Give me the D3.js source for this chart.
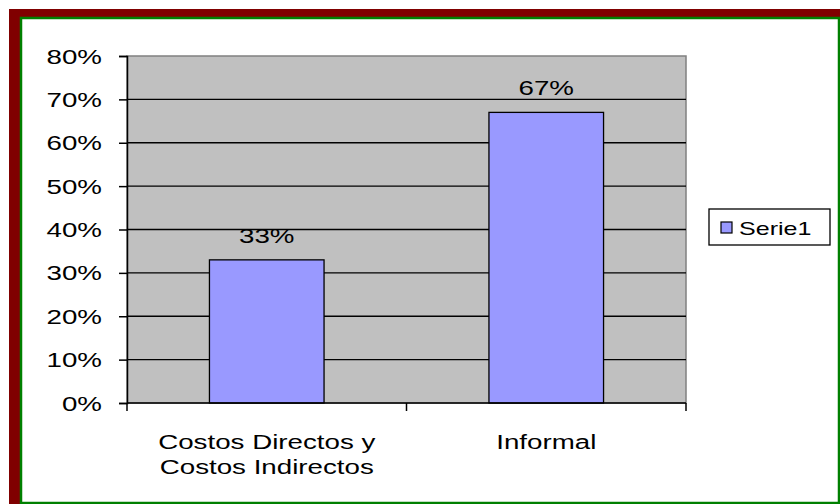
<!DOCTYPE html>
<html>
<head>
<meta charset="utf-8">
<script src="https://cdn.jsdelivr.net/npm/d3@7"></script>
<style>
  body { margin: 0; background: #fff; }
  text { font-family: "Liberation Sans", Arial, sans-serif; fill: #000; }
</style>
</head>
<body>
<svg id="chart" width="840" height="504"></svg>
<script>
var categories = [["Costos Directos y", "Costos Indirectos"], ["Informal"]];
var values = [0.33, 0.67];
var valueLabels = ["33%", "67%"];
var yTicks = [0, 0.1, 0.2, 0.3, 0.4, 0.5, 0.6, 0.7, 0.8];
var seriesName = "Serie1";

var svg = d3.select("#chart"),
    WIDTH = 840,
    HEIGHT = 504,
    FS = 21,     // font size
    SX = 1.32;   // text is stretched sideways in the original

// frame: maroon band, green line, white inside
svg.append("rect").attr("x", 9).attr("y", 9).attr("width", 900).attr("height", 600)
    .attr("fill", "#800000");
svg.append("rect").attr("x", 21).attr("y", 18).attr("width", 818).attr("height", 485)
    .attr("fill", "#fff").attr("stroke", "#008000").attr("stroke-width", 2.5);

var plot = { left: 127, right: 686, top: 56, bottom: 403 };

var x = d3.scaleBand().domain(d3.range(values.length))
    .range([plot.left, plot.right]).paddingInner(0.59).paddingOuter(0.295);
var y = d3.scaleLinear().domain([0, 0.8]).range([plot.bottom, plot.top]);

function stext(g, tx, ty, str, anchor) {
  return g.append("text")
    .attr("transform", "translate(" + tx + "," + ty + ") scale(" + SX + ",1)")
    .attr("text-anchor", anchor || "middle")
    .attr("font-size", FS)
    .text(str);
}

// plot background
svg.append("rect").attr("x", plot.left).attr("y", plot.top)
    .attr("width", plot.right - plot.left).attr("height", plot.bottom - plot.top)
    .attr("fill", "#c0c0c0").attr("stroke", "#808080").attr("stroke-width", 1.5);

// gridlines
svg.append("g").selectAll("line").data(yTicks.filter(function (d) { return d > 0 && d < 0.8; }))
  .enter().append("line")
    .attr("x1", plot.left).attr("x2", plot.right)
    .attr("y1", function (d) { return y(d); }).attr("y2", function (d) { return y(d); })
    .attr("stroke", "#000").attr("stroke-width", 1.3);

// bars
svg.append("g").selectAll("rect").data(values).enter().append("rect")
    .attr("x", function (d, i) { return x(i); })
    .attr("y", function (d) { return y(d); })
    .attr("width", x.bandwidth())
    .attr("height", function (d) { return y(0) - y(d); })
    .attr("fill", "#9999ff").attr("stroke", "#000").attr("stroke-width", 1.3);

// value labels
var lab = svg.append("g");
values.forEach(function (d, i) {
  stext(lab, x(i) + x.bandwidth() / 2, y(d) - 17, valueLabels[i]);
});

// y axis
var yAxis = d3.axisLeft(y).tickValues(yTicks).tickFormat(d3.format(".0%")).tickSize(8).tickPadding(0);
var ya = svg.append("g").attr("transform", "translate(" + plot.left + ",0)").call(yAxis);
ya.select(".domain").attr("stroke", "#000").attr("stroke-width", 1.5);
ya.selectAll(".tick line").attr("stroke", "#000").attr("stroke-width", 1.5);
ya.selectAll(".tick text").remove();
yTicks.forEach(function (d) {
  stext(svg, 102, y(d) + 7.5, d3.format(".0%")(d), "end");
});

// x axis (ticks at category boundaries)
svg.append("line").attr("x1", plot.left).attr("x2", plot.right)
    .attr("y1", plot.bottom).attr("y2", plot.bottom)
    .attr("stroke", "#000").attr("stroke-width", 1.5);
var step = x.step();
var bounds = d3.range(values.length + 1).map(function (i) { return plot.left + i * (plot.right - plot.left) / values.length; });
svg.append("g").selectAll("line").data(bounds).enter().append("line")
    .attr("x1", function (d) { return d; }).attr("x2", function (d) { return d; })
    .attr("y1", plot.bottom).attr("y2", plot.bottom + 8)
    .attr("stroke", "#000").attr("stroke-width", 1.5);

var cl = svg.append("g");
categories.forEach(function (lines, i) {
  lines.forEach(function (s, j) {
    stext(cl, x(i) + x.bandwidth() / 2, 449 + j * 25, s);
  });
});

// legend
var lg = svg.append("g");
lg.append("rect").attr("x", 709).attr("y", 209).attr("width", 121).attr("height", 36)
    .attr("fill", "#fff").attr("stroke", "#000").attr("stroke-width", 1.3);
lg.append("rect").attr("x", 721).attr("y", 222).attr("width", 11).attr("height", 11)
    .attr("fill", "#9999ff").attr("stroke", "#000").attr("stroke-width", 1.2);
stext(lg, 739, 235, seriesName, "start").attr("font-size", 19);
</script>
</body>
</html>
